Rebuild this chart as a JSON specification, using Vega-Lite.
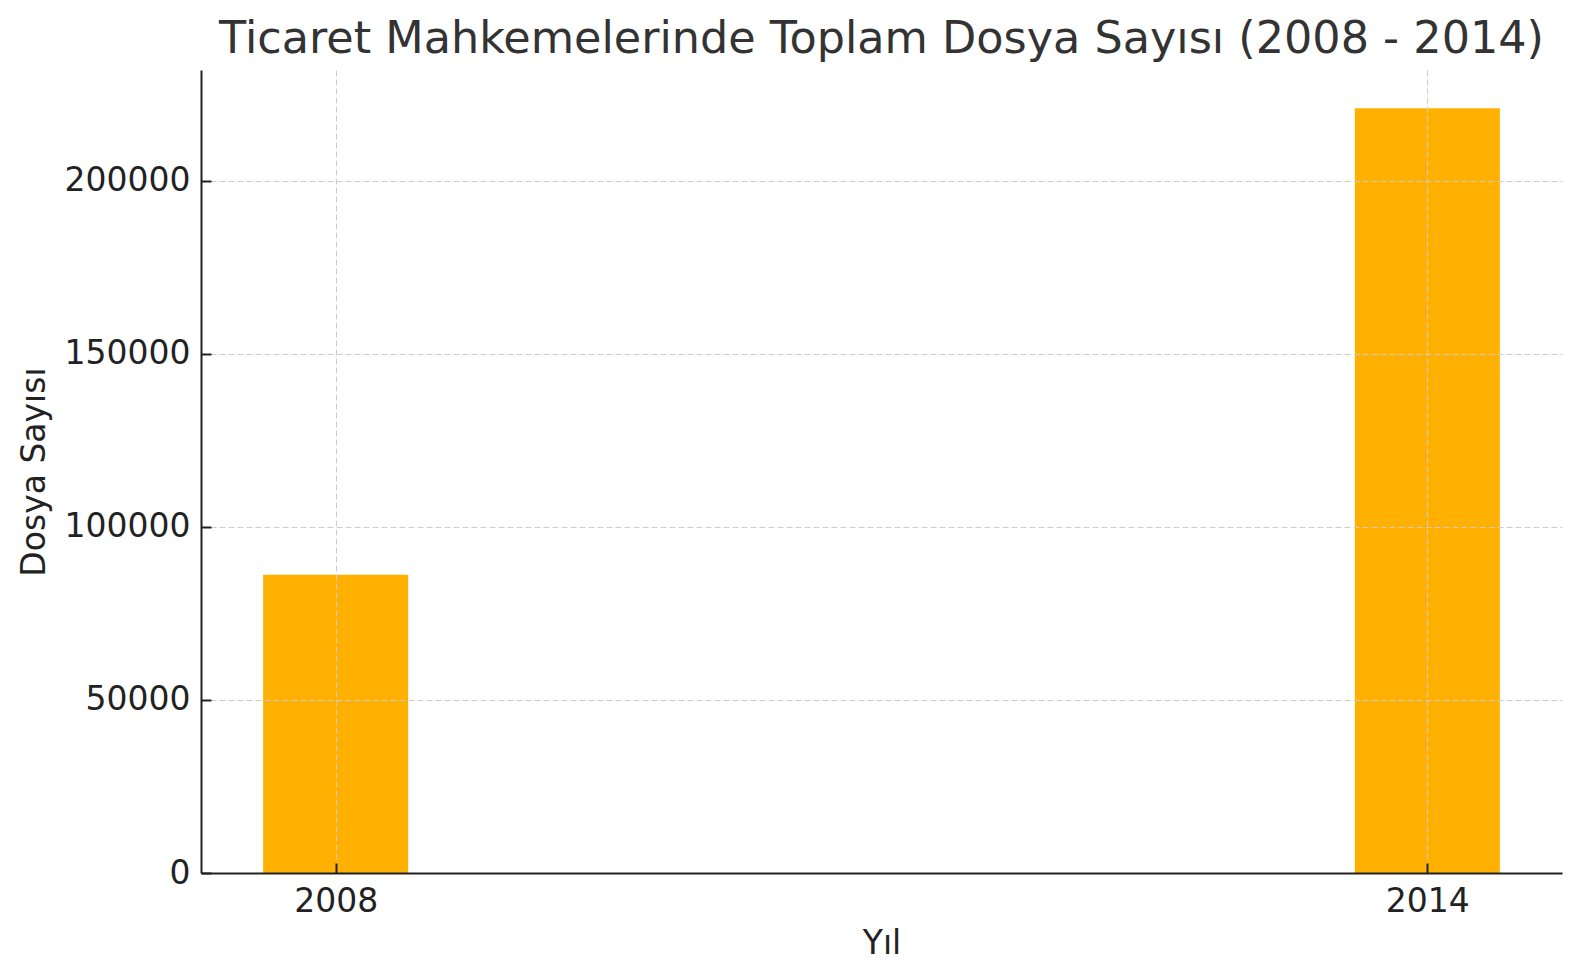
{
  "$schema": "https://vega.github.io/schema/vega-lite/v6.json",
  "width": 1361,
  "height": 803,
  "autosize": {"type": "none"},
  "padding": {"left": 201, "top": 70, "right": 18, "bottom": 107},
  "background": "white",
  "config": {
    "view": {"stroke": null},
    "font": "DejaVu Sans"
  },
  "title": {
    "text": "Ticaret Mahkemelerinde Toplam Dosya Sayısı (2008 - 2014)",
    "fontSize": 44.5,
    "fontWeight": "normal",
    "color": "#333333",
    "font": "DejaVu Sans",
    "anchor": "middle",
    "frame": "group",
    "baseline": "bottom",
    "offset": 8,
    "dy": 44
  },
  "data": {
    "values": [
      {"Yil": 2008, "Dosya": 86200},
      {"Yil": 2014, "Dosya": 221000}
    ]
  },
  "mark": {"type": "bar", "color": "#FFB000", "width": 145},
  "encoding": {
    "x": {
      "field": "Yil",
      "type": "quantitative",
      "scale": {"domain": [2007.26, 2014.74], "nice": false, "zero": false, "padding": 0},
      "axis": {
        "title": "Yıl",
        "values": [2008, 2014],
        "format": "d",
        "zindex": 1,
        "grid": true,
        "gridColor": "#cccccc",
        "gridDash": [6, 3],
        "gridWidth": 1,
        "domainColor": "#222222",
        "domainWidth": 2,
        "tickColor": "#222222",
        "tickWidth": 2,
        "tickSize": -10,
        "labelFontSize": 33,
        "labelColor": "#222222",
        "labelPadding": 22,
        "titleFontSize": 33,
        "titleFontWeight": "normal",
        "titleColor": "#222222",
        "titlePadding": 9
      }
    },
    "y": {
      "field": "Dosya",
      "type": "quantitative",
      "scale": {"domain": [0, 232050], "nice": false},
      "axis": {
        "title": "Dosya Sayısı",
        "values": [0, 50000, 100000, 150000, 200000],
        "format": "d",
        "zindex": 1,
        "grid": true,
        "gridColor": "#cccccc",
        "gridDash": [6, 3],
        "gridWidth": 1,
        "domainColor": "#222222",
        "domainWidth": 2,
        "tickColor": "#222222",
        "tickWidth": 2,
        "tickSize": -10,
        "labelFontSize": 33,
        "labelColor": "#222222",
        "labelPadding": 21,
        "titleFontSize": 33,
        "titleFontWeight": "normal",
        "titleColor": "#222222",
        "titlePadding": 13
      }
    }
  }
}
